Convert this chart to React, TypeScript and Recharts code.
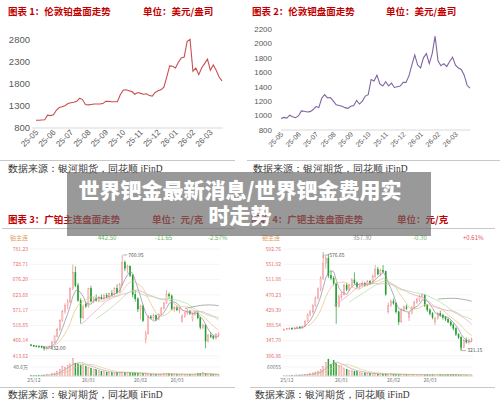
import React from 'react';
import { LineChart, Line, XAxis, YAxis, ComposedChart, Bar, CartesianGrid } from 'recharts';

// ---- London charts (top row) ----
const topMonths = ['25-05', '25-06', '25-07', '25-08', '25-09', '25-10', '25-11', '25-12', '26-01', '26-02', '26-03'];
const topDays = ['01', '06', '11', '16', '21', '26'];
const topDates = topMonths.flatMap((m) => topDays.map((d) => `${m}-${d}`));
const monthTicks = topMonths.map((m) => `${m}-01`);

// 伦敦铂 USD/oz
const ptLondon = [
  975, 975, 980, 985, 1090, 1080,
  1100, 1200, 1260, 1280, 1300, 1350,
  1370, 1380, 1400, 1470, 1440, 1330,
  1320, 1330, 1340, 1340, 1340, 1350,
  1400, 1400, 1390, 1390, 1390, 1550,
  1650, 1660, 1640, 1620, 1560, 1600,
  1580, 1560, 1570, 1530, 1520, 1600,
  1640, 1660, 1720, 1950, 2200, 2190,
  2150, 2280, 2380, 2400, 2750, 2800,
  2080, 2150, 2000, 2150, 2250, 2350,
  2100, 2220, 2100, 1950, 1860,
];

// 伦敦钯 USD/oz
const pdLondon = [
  960, 975, 965, 1005, 985, 970,
  995, 1065, 1060, 1050, 1055, 1080,
  1125, 1110, 1240, 1290, 1245, 1250,
  1200, 1150, 1140, 1130, 1110, 1100,
  1130, 1140, 1210, 1160, 1200, 1270,
  1290, 1500, 1480, 1560, 1440, 1410,
  1470, 1410, 1450, 1390, 1400, 1410,
  1460, 1460, 1550, 1700, 1840, 1700,
  1660, 1800, 1860, 1720, 1860, 2100,
  1760, 1690, 1720, 1680, 1750, 1810,
  1700, 1660, 1640, 1560, 1420, 1380,
];

const ptTicks = [800, 1300, 1800, 2300, 2800];
const pdTicks = [800, 1000, 1200, 1400, 1600, 1800, 2000, 2200];

// ---- Guangzhou futures (bottom row) ----
const candleMonths = ['25/12', '26/01', '26/02', '26/03'];
const candleMonthIdx = [1, 22, 42, 56];

const gPtOpen = [452, 450, 448, 447, 446, 445, 440, 443, 447, 462, 482, 505, 536, 566, 588, 600, 645, 700, 655, 605, 545, 590, 585, 645, 602, 610, 605, 615, 612, 622, 618, 628, 625, 645, 632, 660, 735, 715, 722, 690, 625, 610, 575, 585, 472, 490, 548, 545, 552, 540, 556, 578, 596, 625, 620, 575, 580, 572, 532, 550, 562, 568, 540, 556, 562, 545, 512, 520, 465, 485, 480, 475, 485];
const gPtHigh = [455, 452, 450, 451, 449, 447, 446, 450, 465, 485, 510, 540, 572, 595, 610, 650, 728, 722, 665, 612, 590, 600, 648, 655, 615, 625, 620, 625, 628, 630, 632, 640, 650, 660, 665, 760.95, 742, 728, 725, 695, 640, 615, 590, 590, 500, 555, 555, 560, 556, 560, 582, 600, 640, 632, 625, 585, 586, 582, 558, 565, 575, 572, 562, 570, 568, 548, 525, 522, 490, 495, 486, 492, 495];
const gPtLow = [447, 445, 444, 443, 440, 432, 436, 440, 444, 458, 478, 500, 530, 558, 575, 595, 640, 650, 600, 525, 540, 578, 580, 598, 595, 600, 598, 608, 605, 612, 610, 620, 620, 628, 630, 655, 705, 698, 685, 615, 600, 565, 540, 530, 457, 488, 540, 538, 535, 536, 552, 574, 592, 610, 570, 565, 568, 560, 528, 545, 555, 555, 532, 552, 540, 505, 505, 440, 460, 475, 470, 470, 478];
const gPtClose = [450, 448, 447, 446, 445, 440, 443, 447, 462, 482, 505, 536, 566, 588, 600, 645, 700, 655, 605, 545, 582, 585, 645, 602, 610, 605, 615, 612, 622, 618, 628, 625, 645, 632, 660, 735, 715, 722, 690, 625, 610, 575, 585, 535, 490, 548, 545, 552, 540, 556, 578, 596, 625, 620, 575, 580, 572, 576, 550, 562, 568, 560, 556, 562, 545, 512, 520, 465, 485, 480, 475, 488, 490];
const gPtVol = [4, 3, 3, 4, 3, 4, 6, 5, 10, 14, 22, 28, 45, 40, 48, 55, 80, 58, 55, 50, 52, 45, 40, 36, 32, 28, 25, 22, 20, 18, 16, 15, 14, 15, 16, 18, 17, 15, 16, 14, 14, 12, 11, 10, 12, 9, 8, 8, 7, 8, 9, 10, 12, 10, 9, 8, 7, 8, 9, 7, 8, 7, 8, 9, 10, 12, 15, 10, 8, 7, 6, 7, 6];
const gPtTicks = [413.62, 466.14, 518.65, 571.17, 623.68, 676.2, 728.71, 781.23];

const gPdOpen = [376, 378, 380, 381, 379, 382, 384, 382, 386, 400, 418, 425, 442, 462, 486, 515, 555, 568, 522, 515, 500, 440, 465, 472, 496, 485, 497, 510, 502, 492, 496, 500, 495, 506, 500, 520, 538, 526, 535, 532, 425, 442, 452, 448, 425, 398, 430, 438, 410, 420, 436, 450, 458, 466, 470, 442, 430, 420, 398, 408, 420, 416, 410, 405, 398, 390, 380, 365, 356, 330, 348, 344, 350];
const gPdHigh = [380, 382, 383, 384, 384, 386, 387, 388, 402, 420, 430, 445, 466, 490, 520, 576.65, 575, 580, 535, 520, 503, 470, 478, 500, 502, 500, 515, 530, 506, 500, 508, 505, 510, 510, 525, 550, 545, 540, 550, 535, 450, 458, 460, 450, 428, 435, 442, 444, 425, 440, 455, 462, 470, 475, 472, 446, 434, 424, 412, 425, 428, 420, 414, 408, 402, 394, 384, 368, 360, 352, 356, 352, 356];
const gPdLow = [374, 376, 377, 377, 377, 379, 380, 380, 384, 398, 412, 420, 438, 458, 480, 510, 540, 515, 510, 495, 393, 436, 458, 468, 480, 480, 492, 498, 488, 486, 490, 492, 493, 496, 498, 515, 522, 520, 528, 468, 420, 438, 444, 420, 390, 396, 426, 430, 400, 418, 432, 446, 452, 458, 438, 425, 415, 405, 390, 404, 412, 404, 400, 394, 386, 375, 360, 352, 321.15, 328, 340, 338, 344];
const gPdClose = [378, 380, 381, 379, 382, 384, 382, 386, 400, 418, 425, 442, 462, 486, 515, 555, 568, 522, 515, 500, 440, 465, 472, 496, 485, 497, 510, 502, 492, 496, 500, 495, 506, 500, 520, 538, 526, 535, 532, 472, 442, 452, 448, 425, 398, 430, 438, 434, 420, 436, 450, 458, 466, 470, 442, 430, 420, 410, 408, 420, 416, 410, 405, 398, 390, 380, 365, 356, 330, 348, 344, 350, 352];
const gPdVol = [3, 3, 4, 3, 3, 4, 4, 5, 6, 8, 10, 14, 18, 22, 28, 42, 60, 75, 50, 68, 55, 48, 44, 36, 30, 26, 24, 22, 20, 16, 14, 14, 12, 12, 10, 10, 9, 10, 9, 9, 8, 10, 8, 7, 7, 6, 8, 7, 6, 6, 7, 6, 6, 6, 5, 6, 5, 6, 5, 5, 6, 5, 5, 6, 7, 6, 8, 5, 4, 5, 4, 4, 4];
const gPdTicks = [306.86, 347.7, 388.54, 429.39, 470.23, 511.08, 551.92, 592.76];

const movingAvg = (arr: number[], n: number) =>
  arr.map((_, i) => (i < n - 1 ? null : arr.slice(i - n + 1, i + 1).reduce((a, b) => a + b, 0) / n));

function buildRows(o: number[], h: number[], l: number[], c: number[], v: number[]) {
  const m5 = movingAvg(c, 5), m10 = movingAvg(c, 10), m20 = movingAvg(c, 20), m30 = movingAvg(c, 26), m60 = movingAvg(c, 60);
  const v5 = movingAvg(v, 5), v10 = movingAvg(v, 10);
  return o.map((_, i) => ({
    i, o: o[i], h: h[i], l: l[i], c: c[i], v: v[i],
    ma5: m5[i], ma10: m10[i], ma20: m20[i], ma30: m30[i], ma60: m60[i], vma5: v5[i], vma10: v10[i],
  }));
}

const ptRows = buildRows(gPtOpen, gPtHigh, gPtLow, gPtClose, gPtVol);
const pdRows = buildRows(gPdOpen, gPdHigh, gPdLow, gPdClose, gPdVol);

const UP = '#f08585';
const DOWN = '#1e9c2a';
const SANS = "'Noto Sans CJK SC', 'Noto Sans', sans-serif";
const SERIF = "'Liberation Serif', 'DejaVu Serif', serif";

const AngledTick = ({ x, y, payload, size }: any) => (
  <text x={x} y={y} dy={4} transform={`rotate(-45 ${x} ${y})`} textAnchor="end" fontSize={size} fill="#595959" fontFamily="'Liberation Sans', sans-serif">
    {String(payload.value).slice(0, 5)}
  </text>
);

function makeCandle(hiIdx: number, loIdx: number, hiText: string, loText: string, hook: boolean) {
  return (p: any) => {
    const { x, y, width, height, payload } = p;
    const { o, h, l, c, i } = payload;
    const up = c >= o;
    const color = up ? UP : DOWN;
    const ppu = height / (h - l || 1);
    const top = y + (h - Math.max(o, c)) * ppu;
    const bh = Math.max(0.8, Math.abs(o - c) * ppu);
    const cx = x + width / 2;
    return (
      <g>
        <line x1={cx} x2={cx} y1={y} y2={y + height} stroke={color} strokeWidth={0.7} />
        <rect x={x} y={top} width={width} height={bh} fill={up ? '#fff' : color} stroke={color} strokeWidth={0.5} />
        {i === hiIdx && (
          <g>
            {hook && <line x1={cx} x2={cx} y1={y - 3} y2={y + 3} stroke="#666" strokeWidth={0.5} />}
            <line x1={cx + 1} x2={cx + 5} y1={y} y2={y} stroke="#666" strokeWidth={0.5} />
            <text x={cx + 6} y={y + 1.8} fontSize={5} fill="#555" fontFamily={SANS}>{hiText}</text>
          </g>
        )}
        {i === loIdx && (
          <g>
            {hook && <line x1={cx} x2={cx} y1={y + height - 3} y2={y + height} stroke="#666" strokeWidth={0.5} />}
            <line x1={cx + 1} x2={cx + 5} y1={y + height - (hook ? 0 : 2)} y2={y + height - (hook ? 0 : 2)} stroke="#666" strokeWidth={0.5} />
            <text x={cx + 6} y={y + height - (hook ? -1.5 : 0.5)} fontSize={5} fill="#555" fontFamily={SANS}>{loText}</text>
          </g>
        )}
      </g>
    );
  };
}

const VolBar = (p: any) => {
  const up = p.payload.c >= p.payload.o;
  return (
    <rect x={p.x} y={p.y} width={p.width} height={Math.max(0, p.height)}
      fill={up ? '#fcd9d9' : DOWN} stroke={up ? UP : DOWN} strokeWidth={0.4} />
  );
};

const maLines = [
  { key: 'ma5', color: '#8a8aa0' },
  { key: 'ma10', color: '#e6c27e' },
  { key: 'ma20', color: '#f39cc0' },
  { key: 'ma30', color: '#9fe39f' },
  { key: 'ma60', color: '#8c8c8c' },
];

function CandlePanel({ left, rows, ticks, candle, volMax, volTick, volLabel }: any) {
  return (
    <>
      <div style={{ position: 'absolute', left, top: 244 }}>
        <ComposedChart width={230} height={116} data={rows} margin={{ top: 5, right: 11, bottom: 4, left: 1 }} barCategoryGap="25%">
          <CartesianGrid vertical={false} stroke="#efefef" strokeWidth={0.6} />
          <XAxis dataKey="i" hide />
          <YAxis domain={[ticks[0], ticks[ticks.length - 1]]} ticks={ticks} interval={0} width={28} allowDataOverflow
            axisLine={false} tickLine={false} tickSize={0} tickMargin={2}
            tick={{ fontSize: 5, fill: '#e26b6b', fontFamily: SANS }} tickFormatter={(v: number) => v.toFixed(2)} />
          <Bar dataKey={(d: any) => [d.l, d.h]} shape={candle} isAnimationActive={false} />
          {maLines.map((m) => (
            <Line key={m.key} dataKey={m.key} stroke={m.color} strokeWidth={0.7} dot={false} type="linear" isAnimationActive={false} />
          ))}
        </ComposedChart>
      </div>
      <div style={{ position: 'absolute', left, top: 358 }}>
        <ComposedChart width={230} height={28} data={rows} margin={{ top: 0, right: 11, bottom: 0, left: 1 }} barCategoryGap="25%">
          <CartesianGrid vertical={false} stroke="#efefef" strokeWidth={0.6} />
          <XAxis dataKey="i" ticks={candleMonthIdx} interval={0} height={10} tickSize={0} tickMargin={2}
            tickFormatter={(v: number) => candleMonths[candleMonthIdx.indexOf(v)]}
            tick={{ fontSize: 5, fill: '#777', fontFamily: SANS }} axisLine={{ stroke: '#e3e3e3' }} tickLine={false} />
          <YAxis domain={[0, volMax]} ticks={[volTick]} interval={0} width={28} axisLine={false} tickLine={false} tickSize={0} tickMargin={2}
            tick={{ fontSize: 5, fill: '#777', fontFamily: SANS }} tickFormatter={() => volLabel} />
          <Bar dataKey="v" shape={VolBar} isAnimationActive={false} />
          <Line dataKey="vma5" stroke="#9a9ab0" strokeWidth={0.6} dot={false} isAnimationActive={false} />
          <Line dataKey="vma10" stroke="#e6c27e" strokeWidth={0.6} dot={false} isAnimationActive={false} />
        </ComposedChart>
      </div>
    </>
  );
}

const abs = (left: number, top: number, extra: React.CSSProperties = {}): React.CSSProperties => ({
  position: 'absolute', left, top, whiteSpace: 'nowrap', lineHeight: 1, ...extra,
});
const titleStyle: React.CSSProperties = { fontFamily: SANS, fontWeight: 700, fontSize: 9.5, color: '#c00000' };
const footStyle: React.CSSProperties = { fontFamily: SERIF, fontSize: 9.5, color: '#333' };
const hLine = (left: number, top: number, width: number) => (
  <div style={{ position: 'absolute', left, top, width, height: 1, background: '#c8c8c8' }} />
);

export default function App() {
  const ptData = ptLondon.map((v, i) => ({ d: topDates[i], v }));
  const pdData = pdLondon.map((v, i) => ({ d: topDates[i], v }));
  return (
    <div style={{ position: 'relative', width: 500, height: 409, background: '#fff', overflow: 'hidden' }}>
      <style>{'body{margin:0}'}</style>

      {/* titles */}
      <div style={{ ...abs(8, 7), ...titleStyle }}>图表 1：伦敦铂盘面走势</div>
      <div style={{ ...abs(143, 7), ...titleStyle }}>单位：美元/盎司</div>
      <div style={{ ...abs(252, 7), ...titleStyle }}>图表 2：伦敦钯盘面走势</div>
      <div style={{ ...abs(386, 7), ...titleStyle }}>单位：美元/盎司</div>

      <div style={{ position: 'absolute', left: 0, top: 30 }}>
        <LineChart width={235} height={140} data={ptData} margin={{ top: 7, right: 12, bottom: 0, left: 2 }}>
          <XAxis dataKey="d" ticks={monthTicks} interval={0} height={42} tickSize={0} tickMargin={2} padding={{ left: 4, right: 1 }}
            axisLine={{ stroke: '#d9d9d9' }} tickLine={false} tick={<AngledTick size={8} />} />
          <YAxis domain={[800, 2850]} ticks={ptTicks} interval={0} width={30} axisLine={false} tickLine={false} tickSize={0} tickMargin={2}
            tick={{ fontSize: 9.5, fill: '#595959', fontFamily: "'Liberation Sans', sans-serif" }} />
          <Line dataKey="v" stroke="#c9504e" strokeWidth={1.1} dot={false} isAnimationActive={false} />
        </LineChart>
      </div>

      <div style={{ position: 'absolute', left: 250, top: 20 }}>
        <LineChart width={235} height={150} data={pdData} margin={{ top: 9, right: 15, bottom: 0, left: 1 }}>
          <XAxis dataKey="d" ticks={monthTicks} interval={0} height={40} tickSize={0} tickMargin={2}
            axisLine={{ stroke: '#d9d9d9' }} tickLine={false} tick={<AngledTick size={7} />} />
          <YAxis domain={[800, 2200]} ticks={pdTicks} interval={0} width={30} axisLine={false} tickLine={false} tickSize={0} tickMargin={9}
            tick={{ fontSize: 8, fill: '#595959', fontFamily: "'Liberation Sans', sans-serif" }} />
          <Line dataKey="v" stroke="#8064a2" strokeWidth={1.1} dot={false} isAnimationActive={false} />
        </LineChart>
      </div>

      {hLine(0, 160, 235)}
      {hLine(247, 160, 253)}
      <div style={{ ...abs(8, 165), ...footStyle }}>数据来源：银河期货，同花顺 iFinD</div>
      <div style={{ ...abs(253, 165), ...footStyle }}>数据来源：银河期货，同花顺 iFinD</div>

      {/* bottom row */}
      <div style={{ ...abs(8, 215), ...titleStyle }}>图表 3：广铂主连盘面走势</div>
      <div style={{ ...abs(152, 215), ...titleStyle }}>单位：元/克</div>
      <div style={{ ...abs(251, 215), ...titleStyle }}>图表 4：广钯主连盘面走势</div>
      <div style={{ ...abs(397, 215), ...titleStyle }}>单位：元/克</div>
      {hLine(2, 228, 233)}
      {hLine(250, 228, 245)}

      <div style={{ ...abs(10, 235), fontFamily: SANS, fontSize: 6, color: '#e39a55' }}>铂主连</div>
      <div style={{ ...abs(98, 235), fontFamily: SANS, fontSize: 6, color: '#5cb85c' }}>442.50</div>
      <div style={{ ...abs(155, 235), fontFamily: SANS, fontSize: 6, color: '#5cb85c' }}>-11.65</div>
      <div style={{ ...abs(208, 235), fontFamily: SANS, fontSize: 6, color: '#5cb85c' }}>-2.57%</div>

      <div style={{ ...abs(262, 235), fontFamily: SANS, fontSize: 6, color: '#e39a55' }}>钯主连</div>
      <div style={{ ...abs(353, 235), fontFamily: SANS, fontSize: 6, color: '#8a8a9a' }}>357.30</div>
      <div style={{ ...abs(413, 235), fontFamily: SANS, fontSize: 6, color: '#5cb85c' }}>-0.30</div>
      <div style={{ ...abs(463, 235), fontFamily: SANS, fontSize: 6, color: '#e05555' }}>+0.61%</div>

      <CandlePanel left={1} rows={ptRows} ticks={gPtTicks} candle={makeCandle(35, 5, '760.95', '432.00', false)}
        volMax={81.2} volTick={40.6} volLabel="40.6万" />
      <CandlePanel left={254} rows={pdRows} ticks={gPdTicks} candle={makeCandle(15, 68, '576.65', '321.15', true)}
        volMax={80} volTick={40} volLabel="60055" />

      {hLine(0, 387, 235)}
      {hLine(250, 387, 245)}
      <div style={{ ...abs(8, 391), ...footStyle }}>数据来源：银河期货，同花顺 iFinD</div>
      <div style={{ ...abs(255, 391), ...footStyle }}>数据来源：银河期货，同花顺 iFinD</div>

      {/* overlay banner */}
      <div style={{ position: 'absolute', left: 67, top: 172, width: 364, height: 64, background: 'rgba(105,105,105,0.68)' }} />
      <div style={{ position: 'absolute', left: 73, top: 177, width: 334, textAlign: 'center', fontFamily: SANS, fontWeight: 900, fontSize: 21, lineHeight: '25px', color: '#fff' }}>
        世界钯金最新消息/世界钯金费用实时走势
      </div>
    </div>
  );
}
